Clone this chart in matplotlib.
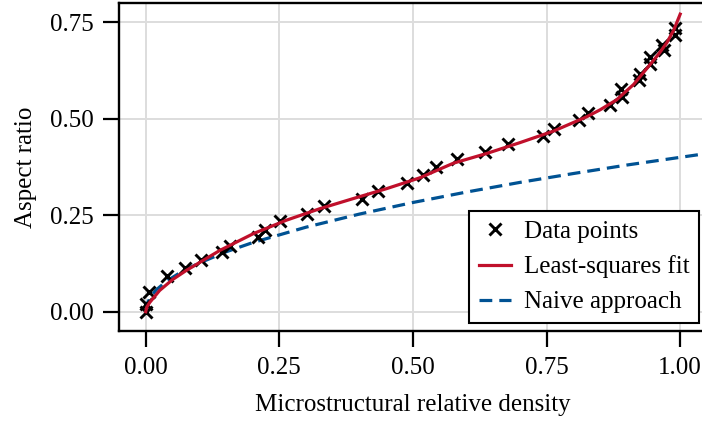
import numpy as np
import matplotlib
matplotlib.use("Agg")
import matplotlib.pyplot as plt

x_data = [0.0, 0.0, 0.006, 0.04, 0.074, 0.104, 0.142, 0.157, 0.210, 0.223, 0.251, 0.301,
          0.333, 0.404, 0.435, 0.488, 0.519, 0.543, 0.582, 0.634, 0.677, 0.744, 0.763,
          0.811, 0.828, 0.869, 0.891, 0.889, 0.922, 0.925, 0.944, 0.944, 0.969, 0.966,
          0.991, 0.991]
y_data = [0.0, 0.02, 0.051, 0.093, 0.114, 0.133, 0.155, 0.171, 0.193, 0.212, 0.234, 0.252,
          0.273, 0.292, 0.313, 0.333, 0.354, 0.374, 0.395, 0.415, 0.435, 0.456, 0.473,
          0.496, 0.515, 0.535, 0.557, 0.576, 0.600, 0.617, 0.643, 0.661, 0.678, 0.691,
          0.716, 0.734]

# least-squares curve
fit_x = [0.0, 0.002, 0.0075, 0.026, 0.05, 0.076, 0.139, 0.201, 0.263, 0.326, 0.388, 0.451,
         0.513, 0.576, 0.638, 0.700, 0.763, 0.825, 0.850, 0.881, 0.913, 0.944, 0.960,
         0.975, 0.988, 1.0]
fit_y = [0.0, 0.012, 0.024, 0.055, 0.083, 0.107, 0.159, 0.202, 0.237, 0.267, 0.293, 0.319,
         0.347, 0.385, 0.410, 0.438, 0.468, 0.505, 0.523, 0.549, 0.589, 0.641, 0.668,
         0.697, 0.730, 0.771]

# naive approach
naive_x = [0.0, 0.003, 0.01, 0.02, 0.04, 0.07, 0.10, 0.15, 0.20, 0.30, 0.40, 0.50, 0.60,
           0.70, 0.80, 0.90, 1.00, 1.05]
naive_y = [0.0, 0.022, 0.04, 0.057, 0.08, 0.106, 0.126, 0.155, 0.179, 0.219, 0.253, 0.283,
           0.31, 0.335, 0.358, 0.38, 0.40, 0.41]

ticks = [0.0, 0.25, 0.5, 0.75, 1.0]

plt.rcParams['font.family'] = ['Liberation Serif', 'DejaVu Serif']
plt.rcParams['font.size'] = 18

fig = plt.figure(figsize=(7.02, 4.23), dpi=100)
ax = fig.add_axes([0.1695, 0.2175, 0.8375, 0.7755])

ax.plot(x_data, y_data, 'x', color='black', ms=8.5, mew=2.1, label='Data points', zorder=3)
ax.plot(fit_x, fit_y, '-', color='#c0102b', lw=2.3, label='Least-squares fit', zorder=4)
ax.plot(naive_x, naive_y, '--', color='#005293', lw=2.3, dashes=(4, 2.2),
        label='Naive approach', zorder=2)

ax.set_xlim(-0.05, 1.05)
ax.set_ylim(-0.05, 0.80)
ax.set_xticks(ticks)
ax.set_yticks(ticks[:4])
ax.xaxis.set_major_formatter(matplotlib.ticker.FormatStrFormatter('%.2f'))
ax.yaxis.set_major_formatter(matplotlib.ticker.FormatStrFormatter('%.2f'))
ax.grid(True, color='#dddddd', lw=1.4)
ax.set_axisbelow(True)
ax.tick_params(direction='out', length=11.5, width=1.6, pad=7)
for s in ax.spines.values():
    s.set_linewidth(1.7)

ax.set_xlabel('Microstructural relative density', labelpad=11)
ax.set_ylabel('Aspect ratio', labelpad=9)

leg = ax.legend(loc='lower right', fancybox=False, framealpha=1, edgecolor='black',
                handlelength=1.3, handletextpad=0.5, borderaxespad=0.3)
leg.get_frame().set_linewidth(1.5)

fig.savefig('out.png', dpi=100)
